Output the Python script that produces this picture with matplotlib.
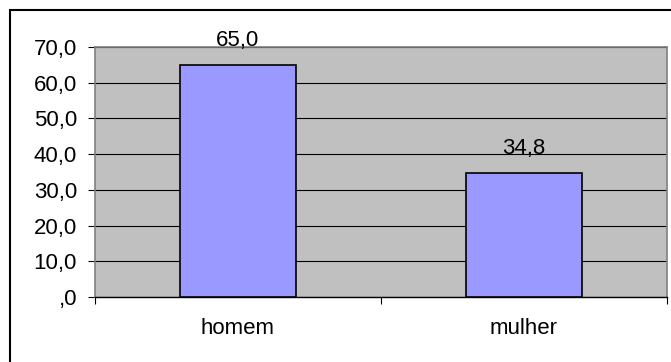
import numpy as np
import matplotlib.pyplot as plt
from matplotlib.patches import Rectangle

plt.rcParams['font.family'] = ['Liberation Sans', 'DejaVu Sans']

categories = ['homem', 'mulher']
values = [65.0, 34.8]
y_ticks = [0, 10, 20, 30, 40, 50, 60, 70]
y_tick_labels = [',0', '10,0', '20,0', '30,0', '40,0', '50,0', '60,0', '70,0']

fig = plt.figure(figsize=(6.71, 3.62), dpi=100)
# outer chart frame (cut off at right and bottom like the original)
fig.patches.append(Rectangle((10 / 671, -0.1), 1.2, 0.1 + (362 - 10) / 362,
                             transform=fig.transFigure, fill=False,
                             edgecolor='black', linewidth=1.5))

ax = fig.add_axes([95 / 671, (362 - 297) / 362, (667 - 95) / 671, (297 - 47) / 362])
ax.set_facecolor('#C0C0C0')

x = np.arange(len(categories))
ax.bar(x, values, width=0.405, color='#9999FF', edgecolor='black', linewidth=1.2, zorder=3)

for xi, v in zip(x, values):
    ax.annotate(f'{v:.1f}'.replace('.', ','), (xi, v), xytext=(0, 13.3),
                textcoords='offset points', ha='center', va='baseline', fontsize=16)

ax.set_xlim(-0.5, len(categories) - 0.5)
ax.set_ylim(0, 70)
ax.set_yticks(y_ticks)
ax.set_yticklabels(y_tick_labels, fontsize=16)
ax.yaxis.grid(True, color='black', linewidth=0.8, zorder=1)
ax.set_axisbelow(True)

ax.set_xticks(x)
ax.set_xticklabels(categories, fontsize=16)
ax.set_xticks(np.arange(-0.5, len(categories)), minor=True)
ax.tick_params(axis='x', which='major', length=0, pad=15)
ax.tick_params(axis='x', which='minor', length=5, width=0.8, direction='out')
ax.tick_params(axis='y', length=5, width=0.8, pad=8)

for side in ['top', 'right', 'left']:
    ax.spines[side].set_color('#808080')
    ax.spines[side].set_linewidth(1.2)
ax.spines['bottom'].set_color('black')
ax.spines['bottom'].set_linewidth(1.0)

fig.savefig('out.png', dpi=100)
